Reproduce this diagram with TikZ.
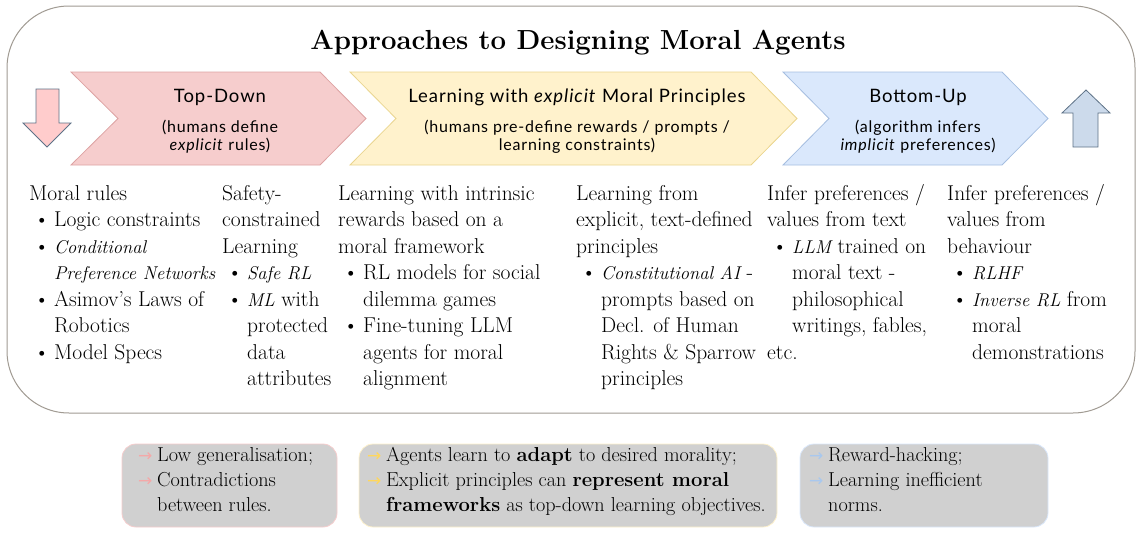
\documentclass[tikz,border=0pt]{standalone}
\usepackage{fontspec}
\newfontfamily\lato[LetterSpace=5]{Lato}
\newfontfamily\dejavu{DejaVu Sans}
\definecolor{framegray}{HTML}{A09A92}
\definecolor{pinkfill}{HTML}{F6CDCD}
\definecolor{pinkline}{HTML}{DDA3A3}
\definecolor{yelfill}{HTML}{FFF2CC}
\definecolor{yelline}{HTML}{EAD58F}
\definecolor{blufill}{HTML}{DAE8FC}
\definecolor{bluline}{HTML}{A6BEE0}
\definecolor{downfill}{HTML}{FFCCCC}
\definecolor{upfill}{HTML}{CCDAEB}
\definecolor{arrline}{HTML}{5E7287}
\definecolor{boxgray}{HTML}{D0D0D0}
\definecolor{pinkarr}{HTML}{F4A8A8}
\definecolor{yelarr}{HTML}{FFD75C}
\definecolor{bluarr}{HTML}{A9C8EE}
\newcommand{\bl}[1]{\hspace*{5pt}\makebox[20pt][l]{\textbullet}#1}
\newcommand{\ct}[1]{\hspace*{25pt}#1}
\newcommand{\itx}[1]{{\fontsize{18.5}{26.5}\selectfont\itshape #1}}
\newcommand{\arw}[2]{\makebox[19pt][l]{\color{#1}\dejavu\fontsize{17}{17}\selectfont →}#2}
\newcommand{\ca}[1]{\hspace*{19pt}#1}
\tikzset{
  frame/.style={draw=framegray, line width=1pt, rounded corners=62pt},
  chevA/.style={fill=pinkfill, draw=pinkline, line width=0.8pt},
  chevB/.style={fill=yelfill, draw=yelline, line width=0.8pt},
  chevC/.style={fill=blufill, draw=bluline, line width=0.8pt},
  downarr/.style={fill=downfill, draw=arrline, line width=0.8pt},
  uparr/.style={fill=upfill, draw=arrline, line width=0.8pt},
  title/.style={anchor=base, inner sep=0pt, font=\bfseries\fontsize{27.6}{32}\selectfont},
  head/.style={anchor=base, inner sep=0pt, font=\lato\fontsize{18.5}{22}\selectfont},
  sub/.style={anchor=base, inner sep=0pt, font=\lato\fontsize{16}{18}\selectfont},
  body/.style={anchor=base west, inner sep=0pt, font=\fontsize{21.5}{26.5}\selectfont},
  btext/.style={anchor=base west, inner sep=0pt, font=\fontsize{20.2}{25}\selectfont},
  pbox/.style={fill=boxgray, draw=pinkfill, line width=0.8pt, rounded corners=14pt},
  ybox/.style={fill=boxgray, draw=yelfill, line width=0.8pt, rounded corners=14pt},
  bbox/.style={fill=boxgray, draw=blufill, line width=0.8pt, rounded corners=14pt},
}
\begin{document}
\begin{tikzpicture}[x=1pt,y=-1pt]
\useasboundingbox (0,0) rectangle (1138,533);
% main frame
\draw[frame] (7,6) rectangle (1135,413);
% title
\node[title] (ttl) at (578,49) {Approaches to Designing Moral Agents};
% chevrons
\draw[chevA] (71,72) -- (320,72) -- (366,118.5) -- (320,165) -- (71,165) -- (118,118.5) -- cycle;
\draw[chevB] (350,72) -- (751,72) -- (797,118.5) -- (751,165) -- (350,165) -- (396,118.5) -- cycle;
\draw[chevC] (783,72) -- (1002,72) -- (1048,118.5) -- (1002,165) -- (783,165) -- (829,118.5) -- cycle;
% block arrows
\draw[downarr] (36,89) -- (59,89) -- (59,123) -- (71,123) -- (47,147) -- (23,123) -- (36,123) -- cycle;
\draw[uparr] (1086,90) -- (1110,113) -- (1098,113) -- (1098,147) -- (1073,147) -- (1073,113) -- (1062,113) -- cycle;
% chevron texts
\node[head] (h1) at (220,102) {Top-Down};
\node[sub] (s1) at (220,132) {\begin{tabular}[t]{@{}c@{}}(humans define\\\textit{explicit} rules)\end{tabular}};
\node[head] (h2) at (577,102) {Learning with \textit{explicit} Moral Principles};
\node[sub] (s2) at (577,132) {\begin{tabular}[t]{@{}c@{}}(humans pre-define rewards / prompts /\\learning constraints)\end{tabular}};
\node[head] (h3) at (918,102) {Bottom-Up};
\node[sub] (s3) at (918,132) {\begin{tabular}[t]{@{}c@{}}(algorithm infers\\\textit{implicit} preferences)\end{tabular}};
% body columns
\node[body] (c1) at (29,200) {\parbox[t]{200pt}{\raggedright
Moral rules\\
\bl{Logic constraints}\\
\bl{\itx{Conditional}}\\
\ct{\itx{Preference Networks}}\\
\bl{Asimov's Laws of}\\
\ct{Robotics}\\
\bl{Model Specs}}};
\node[body] (c2) at (222,200) {\parbox[t]{120pt}{\raggedright
Safety-\\
constrained\\
Learning\\
\bl{\itx{Safe RL}}\\
\bl{\itx{ML} with}\\
\ct{protected}\\
\ct{data}\\
\ct{attributes}}};
\node[body] (c3) at (338,200) {\parbox[t]{220pt}{\raggedright
Learning with intrinsic\\
rewards based on a\\
moral framework\\
\bl{RL models for social}\\
\ct{dilemma games}\\
\bl{Fine-tuning LLM}\\
\ct{agents for moral}\\
\ct{alignment}}};
\node[body] (c4) at (576,200) {\parbox[t]{190pt}{\raggedright
Learning from\\
explicit, text-defined\\
principles\\
\bl{\itx{Constitutional AI} -}\\
\ct{prompts based on}\\
\ct{Decl. of Human}\\
\ct{Rights \& Sparrow}\\
\ct{principles}}};
\node[body] (c5) at (767,200) {\parbox[t]{175pt}{\raggedright
Infer preferences /\\
values from text\\
\bl{\itx{LLM} trained on}\\
\ct{moral text -}\\
\ct{philosophical}\\
\ct{writings, fables,}\\
etc.}};
\node[body] (c6) at (947,200) {\parbox[t]{180pt}{\raggedright
Infer preferences /\\
values from\\
behaviour\\
\bl{\itx{RLHF}}\\
\bl{\itx{Inverse RL} from}\\
\ct{moral}\\
\ct{demonstrations}}};
% bottom boxes
\draw[pbox] (122,444) rectangle (337,527);
\draw[ybox] (359,444) rectangle (777,527);
\draw[bbox] (800,444) rectangle (1048,527);
\node[btext] (b1) at (138,461) {\parbox[t]{200pt}{\raggedright
\arw{pinkarr}{Low generalisation;}\\
\arw{pinkarr}{Contradictions}\\
\ca{between rules.}}};
\node[btext] (b2) at (367,461) {\parbox[t]{420pt}{\raggedright
\arw{yelarr}{Agents learn to \textbf{adapt} to desired morality;}\\
\arw{yelarr}{Explicit principles can \textbf{represent moral}}\\
\ca{\textbf{frameworks} as top-down learning objectives.}}};
\node[btext] (b3) at (809,461) {\parbox[t]{240pt}{\raggedright
\arw{bluarr}{Reward-hacking;}\\
\arw{bluarr}{Learning inefficient}\\
\ca{norms.}}};
\end{tikzpicture}
\end{document}
